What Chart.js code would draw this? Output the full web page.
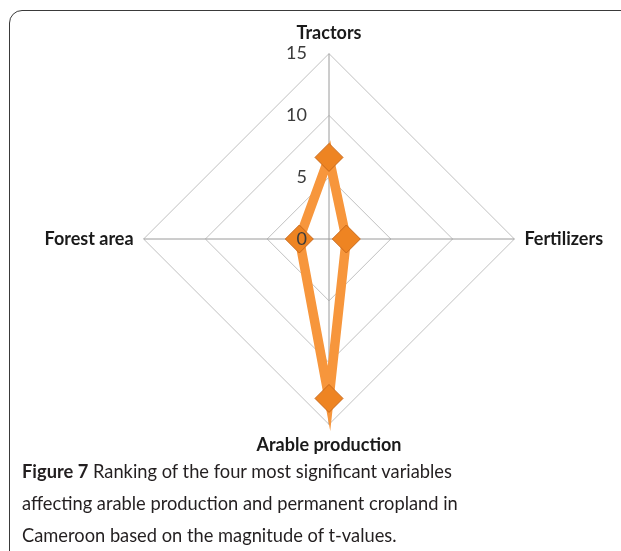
<!DOCTYPE html>
<html>
<head>
<meta charset="utf-8">
<script src="https://cdn.jsdelivr.net/npm/chart.js@4.4.1/dist/chart.umd.min.js"></script>
<style>
  html, body { margin: 0; padding: 0; background: #fff; }
  body { width: 621px; height: 551px; overflow: hidden; position: relative; }
  .frame {
    position: absolute; left: 9px; top: 10px; width: 660px; height: 600px;
    border: 1.5px solid #3a3a3a; border-radius: 13px;
  }
  .chart-wrap { position: absolute; left: 0; top: 0; width: 621px; height: 478px; }
  .caption {
    position: absolute; left: 22px; top: 455px; width: 590px;
    font-family: Lato, sans-serif; font-size: 18.3px; line-height: 32px; color: #231f20;
  }
  .caption b { font-weight: 700; }
</style>
</head>
<body>
<div class="frame"></div>
<div class="chart-wrap"><canvas id="radarChart" width="621" height="478"></canvas></div>
<div class="caption"><b>Figure 7</b> Ranking of the four most significant variables<br>affecting arable production and permanent cropland in<br>Cameroon based on the magnitude of t-values.</div>

<script>
/* Radar chart - ranking of variables by t-value magnitude */

const AXIS_LABELS = ['Tractors', 'Fertilizers', 'Arable production', 'Forest area'];
const T_VALUES = [6.6, 1.4, 12.9, 2.4];
const TICK_VALUES = [0, 5, 10, 15];

// draws the tick numbers just left of the vertical axis, on top of the data (like the original)
const leftTicks = {
  id: 'leftTicks',
  afterDatasetsDraw(chart) {
    const scale = chart.scales.r;
    const ctx = chart.ctx;
    ctx.save();
    ctx.font = '18px Lato, sans-serif';
    ctx.fillStyle = '#3b3b3b';
    ctx.textAlign = 'right';
    ctx.textBaseline = 'middle';
    TICK_VALUES.forEach(v => {
      const d = scale.getDistanceFromCenterForValue(v);
      ctx.fillText(String(v), scale.xCenter - 22, scale.yCenter - d);
    });
    ctx.restore();
  }
};

// shaded diamond fill, lighter on top like the bevelled markers of the original
function markerFill(context) {
  const el = context.element;
  if (!el || el.y == null) return '#ee8422';
  const g = context.chart.ctx.createLinearGradient(0, el.y - 14, 0, el.y + 14);
  g.addColorStop(0, '#fbb058');
  g.addColorStop(0.5, '#f08a25');
  g.addColorStop(1, '#cf6a14');
  return g;
}

document.addEventListener('DOMContentLoaded', () => {
  const ctx = document.getElementById('radarChart');
  new Chart(ctx, {
    type: 'radar',
    data: {
      labels: AXIS_LABELS,
      datasets: [{
        data: T_VALUES,
        borderColor: '#f7963c',
        borderWidth: 9.5,
        fill: false,
        pointStyle: 'rectRot',
        pointRadius: 14,
        pointBackgroundColor: markerFill,
        pointBorderColor: '#c9691b',
        pointBorderWidth: 1
      }]
    },
    options: {
      responsive: false,
      animation: false,
      layout: { padding: { top: 22, bottom: 21, left: 28, right: 0 } },
      plugins: { legend: { display: false }, tooltip: { enabled: false } },
      scales: {
        r: {
          min: 0, max: 15,
          ticks: { stepSize: 5, display: false },
          grid: { color: '#c0c0c0', lineWidth: 1, circular: false },
          angleLines: { color: '#9a9a9a', lineWidth: 1 },
          pointLabels: {
            font: { family: 'Lato, sans-serif', size: 18, weight: 'bold' },
            color: '#1a1a1a',
            padding: 10
          }
        }
      }
    },
    plugins: [leftTicks]
  });
});
</script>
</body>
</html>
